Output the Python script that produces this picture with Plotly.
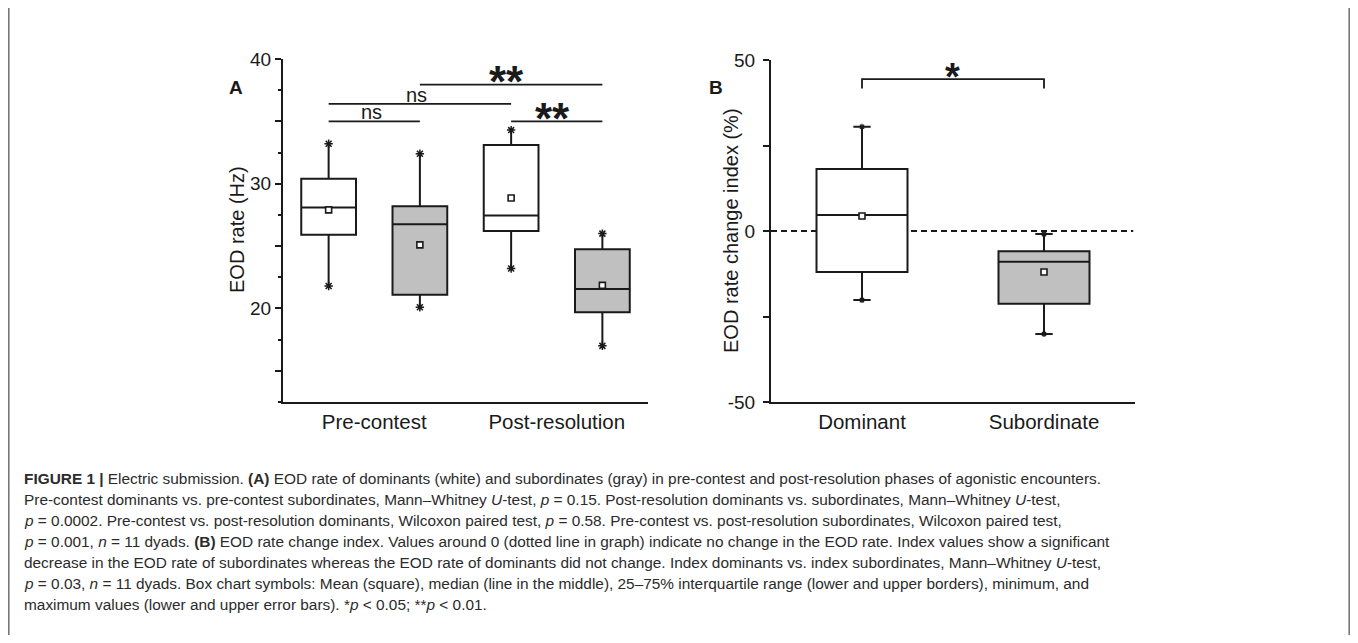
import plotly.graph_objects as go

OFF = 8  # default page margin of the html body
W, H = 1358 - 2 * OFF, 643 - 2 * OFF  # figure sized so the page does not overflow the window

# ---------------- data ----------------
# Panel A: EOD rate (Hz)
a_pos = [1, 2, 3, 4]
a_groups = ["Pre dominant", "Pre subordinate", "Post dominant", "Post subordinate"]
a_fill = ["white", "#c0c0c0", "white", "#c0c0c0"]
a_min = [21.8, 20.1, 23.2, 17.0]
a_q1 = [25.9, 21.1, 26.2, 19.7]
a_median = [28.1, 26.75, 27.45, 21.55]
a_q3 = [30.4, 28.2, 33.1, 24.75]
a_max = [33.2, 32.4, 34.3, 26.0]
a_mean = [27.9, 25.1, 28.85, 21.85]
a_cat_pos = [1.5, 3.5]
a_cat_labels = ["Pre-contest", "Post-resolution"]

# Panel B: EOD rate change index (%)
b_pos = [1, 2]
b_cat_labels = ["Dominant", "Subordinate"]
b_fill = ["white", "#c0c0c0"]
b_min = [-20.2, -30.1]
b_q1 = [-12.0, -21.3]
b_median = [4.7, -9.0]
b_q3 = [18.1, -5.9]
b_max = [30.5, -0.9]
b_mean = [4.4, -12.0]

# significance markers: (x0, x1, y, label)
a_sig = [(1, 2, 35.0, "ns"), (1, 3, 36.4, "ns"), (2, 4, 37.95, "**"), (3, 4, 35.0, "**")]
b_sig = [(1, 2, 44.4, 41.7, "*")]

INK = "#1a1a1a"
FONT = "Liberation Sans, Arial, sans-serif"

def px_x(p):
    return (p - OFF) / W

def px_y(p):
    return 1 - (p - OFF) / H

fig = go.Figure()

# ---------------- panel A boxes ----------------
for i in range(len(a_pos)):
    fig.add_trace(go.Box(
        x=[a_pos[i]], q1=[a_q1[i]], median=[a_median[i]], q3=[a_q3[i]],
        lowerfence=[a_min[i]], upperfence=[a_max[i]],
        width=0.6, whiskerwidth=0, fillcolor=a_fill[i],
        line=dict(color=INK, width=2), boxpoints=False,
        name=a_groups[i], xaxis="x", yaxis="y", hoverinfo="skip"))
fig.add_trace(go.Scatter(
    x=a_pos + a_pos, y=a_min + a_max, mode="markers",
    marker=dict(symbol="asterisk-open", size=7, color=INK, line=dict(color=INK, width=1.5)),
    xaxis="x", yaxis="y", hoverinfo="skip"))
fig.add_trace(go.Scatter(
    x=a_pos, y=a_mean, mode="markers",
    marker=dict(symbol="square", size=6, color="white", line=dict(color=INK, width=1.6)),
    xaxis="x", yaxis="y", hoverinfo="skip"))

# ---------------- panel B boxes ----------------
for i in range(len(b_pos)):
    fig.add_trace(go.Box(
        x=[b_pos[i]], q1=[b_q1[i]], median=[b_median[i]], q3=[b_q3[i]],
        lowerfence=[b_min[i]], upperfence=[b_max[i]],
        width=0.5, whiskerwidth=0.19, fillcolor=b_fill[i],
        line=dict(color=INK, width=2), boxpoints=False,
        name=b_cat_labels[i], xaxis="x2", yaxis="y2", hoverinfo="skip"))
fig.add_trace(go.Scatter(
    x=b_pos + b_pos, y=b_min + b_max, mode="markers",
    marker=dict(symbol="asterisk-open", size=5, color=INK, line=dict(color=INK, width=1.2)),
    xaxis="x2", yaxis="y2", hoverinfo="skip"))
fig.add_trace(go.Scatter(
    x=b_pos, y=b_mean, mode="markers",
    marker=dict(symbol="square", size=6, color="white", line=dict(color=INK, width=1.6)),
    xaxis="x2", yaxis="y2", hoverinfo="skip"))

shapes = []
annotations = []

# dashed zero line in B
shapes.append(dict(type="line", xref="x2 domain", yref="y2", x0=0, x1=0.995, y0=0, y1=0,
                   line=dict(color=INK, width=2, dash="6px,4px"), layer="below"))

# significance lines A
for (x0, x1, y, lab) in a_sig:
    shapes.append(dict(type="line", xref="x", yref="y", x0=x0, x1=x1, y0=y, y1=y,
                       line=dict(color=INK, width=1.8)))
    if lab == "ns":
        annotations.append(dict(xref="x", yref="y", x=(x0 + x1) / 2 - 0.035, y=y,
                                text="ns", showarrow=False, yanchor="bottom", yshift=-4,
                                font=dict(family=FONT, size=20, color=INK)))
    else:
        annotations.append(dict(xref="x", yref="y", x=(x0 + x1) / 2 - 0.05, y=y,
                                text="<b>**</b>", showarrow=False, yanchor="middle", yshift=3,
                                font=dict(family=FONT, size=44, color=INK)))

# bracket B
for (x0, x1, ytop, ylow, lab) in b_sig:
    shapes.append(dict(type="path", xref="x2", yref="y2",
                       path=f"M {x0},{ylow} L {x0},{ytop} L {x1},{ytop} L {x1},{ylow}",
                       line=dict(color=INK, width=1.8)))
    annotations.append(dict(xref="x2", yref="y2", x=(x0 + x1) / 2 - 0.005, y=ytop,
                            text="<b>*</b>", showarrow=False, yanchor="middle", yshift=2,
                            font=dict(family=FONT, size=38, color=INK)))

# y-axis titles
annotations.append(dict(xref="paper", yref="paper", x=px_x(237), y=px_y(230),
                        text="EOD rate (Hz)", textangle=-90, showarrow=False,
                        xanchor="center", yanchor="middle",
                        font=dict(family=FONT, size=20, color=INK)))
annotations.append(dict(xref="paper", yref="paper", x=px_x(731), y=px_y(231),
                        text="EOD rate change index (%)", textangle=-90, showarrow=False,
                        xanchor="center", yanchor="middle",
                        font=dict(family=FONT, size=20, color=INK)))

# panel letters
annotations.append(dict(xref="paper", yref="paper", x=px_x(236), y=px_y(88),
                        text="<b>A</b>", showarrow=False, xanchor="center", yanchor="middle",
                        font=dict(family=FONT, size=19, color=INK)))
annotations.append(dict(xref="paper", yref="paper", x=px_x(716), y=px_y(88),
                        text="<b>B</b>", showarrow=False, xanchor="center", yanchor="middle",
                        font=dict(family=FONT, size=19, color=INK)))

# caption
caption_lines = [
    "<b>FIGURE 1 |</b> Electric submission. <b>(A)</b> EOD rate of dominants (white) and subordinates (gray) in pre-contest and post-resolution phases of agonistic encounters.",
    "Pre-contest dominants vs. pre-contest subordinates, Mann–Whitney <i>U</i>-test, <i>p</i> = 0.15. Post-resolution dominants vs. subordinates, Mann–Whitney <i>U</i>-test,",
    "<i>p</i> = 0.0002. Pre-contest vs. post-resolution dominants, Wilcoxon paired test, <i>p</i> = 0.58. Pre-contest vs. post-resolution subordinates, Wilcoxon paired test,",
    "<i>p</i> = 0.001, <i>n</i> = 11 dyads. <b>(B)</b> EOD rate change index. Values around 0 (dotted line in graph) indicate no change in the EOD rate. Index values show a significant",
    "decrease in the EOD rate of subordinates whereas the EOD rate of dominants did not change. Index dominants vs. index subordinates, Mann–Whitney <i>U</i>-test,",
    "<i>p</i> = 0.03, <i>n</i> = 11 dyads. Box chart symbols: Mean (square), median (line in the middle), 25–75% interquartile range (lower and upper borders), minimum, and",
    "maximum values (lower and upper error bars). *<i>p</i> &lt; 0.05; **<i>p</i> &lt; 0.01.",
]
for k, line in enumerate(caption_lines):
    annotations.append(dict(xref="paper", yref="paper", x=px_x(22), y=px_y(478 + 21 * k),
                            text=line, showarrow=False, xanchor="left", yanchor="middle",
                            font=dict(family=FONT, size=15.4, color="#2b2b2b")))

# frame lines (left and right page border)
for xp in (8.8, 1349.2):
    shapes.append(dict(type="line", xref="paper", yref="paper", x0=px_x(xp), x1=px_x(xp),
                       y0=0, y1=1, line=dict(color="#777777", width=1.6)))

line_common = dict(showgrid=False, zeroline=False, showline=True, linecolor=INK, linewidth=2,
                   fixedrange=True, automargin=False)
tick_font = dict(family=FONT, size=19, color=INK)
cat_font = dict(family=FONT, size=20.5, color=INK)

fig.update_layout(
    width=W, height=H, margin=dict(l=0, r=0, t=0, b=0, pad=0, autoexpand=False),
    paper_bgcolor="white", plot_bgcolor="rgba(0,0,0,0)", showlegend=False,
    xaxis=dict(domain=[px_x(283), px_x(648)], range=[0.5, 4.5], anchor="y",
               tickvals=a_cat_pos, ticktext=a_cat_labels, ticks="", tickfont=cat_font,
               **line_common),
    yaxis=dict(domain=[px_y(402), px_y(59)], range=[12.5, 40], anchor="x",
               tickvals=[15, 20, 25, 30, 35, 40], ticktext=["", "20", "", "30", "", "40"],
               ticks="outside", ticklen=6, tickwidth=2, tickcolor=INK, tickfont=tick_font,
               minor=dict(dtick=2.5, tick0=12.5, ticks="outside", ticklen=3.5, tickwidth=2, tickcolor=INK),
               **line_common),
    xaxis2=dict(domain=[px_x(771), px_x(1135)], range=[0.5, 2.5], anchor="y2",
                tickvals=b_pos, ticktext=b_cat_labels, ticks="", tickfont=cat_font,
                **line_common),
    yaxis2=dict(domain=[px_y(402), px_y(60)], range=[-50, 50], anchor="x2",
                tickvals=[-50, -25, 0, 25, 50], ticktext=["-50", "", "0", "", "50"],
                ticks="outside", ticklen=6, tickwidth=2, tickcolor=INK, ticklabelstandoff=4,
                tickfont=tick_font, **line_common),
    shapes=shapes, annotations=annotations,
)

fig.write_html("out.html")
